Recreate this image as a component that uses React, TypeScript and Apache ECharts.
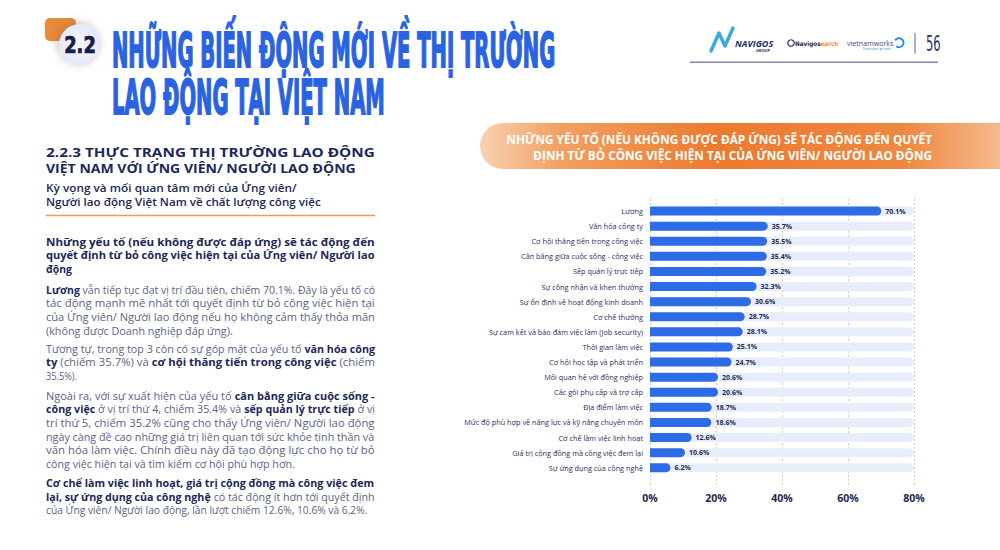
import React, { useEffect, useRef } from "react";
import * as echarts from "echarts";

const categories = [
  "Lương",
  "Văn hóa công ty",
  "Cơ hội thăng tiến trong công việc",
  "Cân bằng giữa cuộc sống - công việc",
  "Sếp quản lý trực tiếp",
  "Sự công nhận và khen thưởng",
  "Sự ổn định về hoạt động kinh doanh",
  "Cơ chế thưởng",
  "Sự cam kết và bảo đảm việc làm (Job security)",
  "Thời gian làm việc",
  "Cơ hội học tập và phát triển",
  "Mối quan hệ với đồng nghiệp",
  "Các gói phụ cấp và trợ cấp",
  "Địa điểm làm việc",
  "Mức độ phù hợp về năng lực và kỹ năng chuyên môn",
  "Cơ chế làm việc linh hoạt",
  "Giá trị cộng đồng mà công việc đem lại",
  "Sự ứng dụng của công nghệ",
];
const values = [70.1, 35.7, 35.5, 35.4, 35.2, 32.3, 30.6, 28.7, 28.1, 25.1, 24.7, 20.6, 20.6, 18.7, 18.6, 12.6, 10.6, 6.2];
const axisMin = 0;
const axisMax = 80;
const axisStep = 20;

const titleLines = ["NHỮNG BIẾN ĐỘNG MỚI VỀ THỊ TRƯỜNG", "LAO ĐỘNG TẠI VIỆT NAM"];
const sectionNumber = "2.2";
const pageNumber = "56";
const headingLines = ["2.2.3 THỰC TRẠNG THỊ TRƯỜNG LAO ĐỘNG", "VIỆT NAM VỚI ỨNG VIÊN/ NGƯỜI LAO ĐỘNG"];
const subLines = ["Kỳ vọng và mối quan tâm mới của Ứng viên/", "Người lao động Việt Nam về chất lượng công việc"];
const boldParaLines = [
  "Những yếu tố (nếu không được đáp ứng) sẽ tác động đến",
  "quyết định từ bỏ công việc hiện tại của Ứng viên/ Người lao",
  "động",
];
const bodyParas = [
  [
    "{b|Lương} vẫn tiếp tục đạt vị trí đầu tiên, chiếm 70.1%. Đây là yếu tố có",
    "tác động mạnh mẽ nhất tới quyết định từ bỏ công việc hiện tại",
    "của Ứng viên/ Người lao động nếu họ không cảm thấy thỏa mãn",
    "(không được Doanh nghiệp đáp ứng).",
  ],
  [
    "Tương tự, trong top 3 còn có sự góp mặt của yếu tố {b|văn hóa công}",
    "{b|ty} (chiếm 35.7%) và {b|cơ hội thăng tiến trong công việc} (chiếm",
    "35.5%).",
  ],
  [
    "Ngoài ra, với sự xuất hiện của yếu tố {b|cân bằng giữa cuộc sống -}",
    "{b|công việc} ở vị trí thứ 4, chiếm 35.4% và {b|sếp quản lý trực tiếp} ở vị",
    "trí thứ 5, chiếm 35.2% cũng cho thấy Ứng viên/ Người lao động",
    "ngày càng đề cao những giá trị liên quan tới sức khỏe tinh thần và",
    "văn hóa làm việc. Chính điều này đã tạo động lực cho họ từ bỏ",
    "công việc hiện tại và tìm kiếm cơ hội phù hợp hơn.",
  ],
  [
    "{b|Cơ chế làm việc linh hoạt, giá trị cộng đồng mà công việc đem}",
    "{b|lại, sự ứng dụng của công nghệ} có tác động ít hơn tới quyết định",
    "của Ứng viên/ Người lao động, lần lượt chiếm 12.6%, 10.6% và 6.2%.",
  ],
];
const bannerLines = [
  "NHỮNG YẾU TỐ (NẾU KHÔNG ĐƯỢC ĐÁP ỨNG) SẼ TÁC ĐỘNG ĐẾN QUYẾT",
  "ĐỊNH TỪ BỎ CÔNG VIỆC HIỆN TẠI CỦA ỨNG VIÊN/ NGƯỜI LAO ĐỘNG",
];

const NAVY = "#1d2757";
const BODY = "#5a6187";
const FONT = "'Open Sans', 'Noto Sans', sans-serif";
const NARROW = "'Liberation Sans Narrow', 'DejaVu Sans Condensed', sans-serif";

// layout: full column width for justified lines, and widths for closing lines
const COL_X = 46;
const COL_W = 329;
const bodyLastWidths = [187, 31, 249, 322];

const canvas = typeof document !== "undefined" ? document.createElement("canvas") : null;
const ctx = canvas ? canvas.getContext("2d") : null;

function measureRich(text: string, size: number, baseWeight: string | number) {
  if (!ctx) return 1;
  const parts = text.split(/(\{b\|[^}]*\})/).filter((s) => s.length);
  let w = 0;
  parts.forEach((p) => {
    const m = p.match(/^\{b\|([^}]*)\}$/);
    const weight = m ? "bold" : String(baseWeight);
    ctx.font = `${weight} ${size}px ${FONT}`;
    w += ctx.measureText(m ? m[1] : p).width;
  });
  return w;
}

export default function App() {
  const ref = useRef<HTMLDivElement>(null);

  useEffect(() => {
    if (!ref.current) return;
    const chart = echarts.init(ref.current, undefined, { renderer: "svg" });

    const g: any[] = [];
    const addLine = (
      x: number,
      y: number,
      text: string,
      size: number,
      weight: string | number,
      fill: string,
      targetW: number,
      align: string = "left"
    ) => {
      const w = measureRich(text, size, weight);
      const sx = Math.max(0.8, Math.min(1.3, targetW / w));
      g.push({
        type: "text",
        x,
        y,
        scaleX: sx,
        style: {
          text,
          x: 0,
          y: 0,
          align,
          verticalAlign: "middle",
          fill,
          fontFamily: FONT,
          fontWeight: weight,
          fontSize: size,
          rich: { b: { fill: NAVY, fontWeight: "bold", fontFamily: FONT, fontSize: size } },
        },
      });
    };

    // section badge
    g.push({ type: "rect", shape: { x: 45, y: 18, width: 31, height: 23, r: 5 }, style: { fill: "#e8893b" } });
    g.push({
      type: "circle",
      shape: { cx: 80, cy: 45, r: 21 },
      style: {
        fill: new echarts.graphic.RadialGradient(0.5, 0.5, 0.6, [
          { offset: 0, color: "#f5f6fd" },
          { offset: 1, color: "#e2e5f6" },
        ]),
        shadowBlur: 8,
        shadowColor: "rgba(140,90,50,0.35)",
        shadowOffsetX: -2,
        shadowOffsetY: -2,
      },
    });
    g.push({
      type: "text",
      x: 80,
      y: 45.5,
      scaleX: 1.1,
      scaleY: 1.25,
      style: { text: sectionNumber, x: 0, y: 0, align: "center", verticalAlign: "middle", fill: "#14204a", stroke: "#14204a", lineWidth: 0.6, fontFamily: NARROW, fontWeight: "bold", fontSize: 18 },
    });
    // title
    const titleY = [50.5, 97.5];
    titleLines.forEach((t, i) => {
      g.push({
        type: "text",
        x: 112,
        y: titleY[i],
        scaleX: 0.725,
        scaleY: 1.6,
        style: { text: t, x: 0, y: 0, verticalAlign: "middle", fill: "#2a63e2", stroke: "#2a63e2", lineWidth: 1.1, fontFamily: NARROW, fontWeight: "bold", fontSize: 30 },
      });
    });
    // logos
    g.push({ type: "polyline", shape: { points: [[711, 51], [719, 33], [725, 46], [733, 28]] }, style: { stroke: "#3ea8de", lineWidth: 3.5, fill: "none", lineJoin: "round", lineCap: "round" } });
    g.push({ type: "text", x: 735, y: 43, style: { text: "NAVIGOS", fill: "#1d2c6a", fontFamily: FONT, fontStyle: "italic", fontWeight: "bold", fontSize: 9, verticalAlign: "middle" } });
    g.push({ type: "text", x: 763, y: 50, style: { text: "GROUP", fill: "#1d2c6a", fontFamily: FONT, fontWeight: "bold", fontSize: 4, align: "center", verticalAlign: "middle" } });
    g.push({ type: "circle", shape: { cx: 791, cy: 43, r: 3.2 }, style: { fill: "none", stroke: "#2b3562", lineWidth: 1.2 } });
    g.push({
      type: "text",
      x: 795,
      y: 43.5,
      style: {
        text: "{a|Navigos}{b|earch}",
        verticalAlign: "middle",
        fontFamily: NARROW,
        fontSize: 6.3,
        rich: {
          a: { fill: "#1d2757", fontWeight: "bold", fontSize: 6.3, fontFamily: NARROW },
          b: { fill: "#ef8a3c", fontWeight: "bold", fontSize: 6.3, fontFamily: NARROW },
        },
      },
    });
    g.push({ type: "text", x: 847, y: 42.5, style: { text: "vietnamworks", fill: "#3d4a78", fontFamily: FONT, fontSize: 7.1, verticalAlign: "middle" } });
    g.push({ type: "text", x: 877, y: 48.5, style: { text: "Empower growth", fill: "#2f8fe0", fontFamily: FONT, fontSize: 3.5, align: "center", verticalAlign: "middle" } });
    g.push({ type: "arc", shape: { cx: 899, cy: 42.7, r: 4.5, startAngle: -2.6, endAngle: 2.2 }, style: { stroke: "#2f8fe0", lineWidth: 2, fill: "none" } });
    g.push({ type: "line", shape: { x1: 915, y1: 33, x2: 915, y2: 53.5 }, style: { stroke: "#8c95b3", lineWidth: 1.5 } });
    g.push({
      type: "text",
      x: 926,
      y: 44,
      scaleX: 0.92,
      scaleY: 1.5,
      style: { text: pageNumber, x: 0, y: 0, verticalAlign: "middle", fill: "#2b3562", fontFamily: NARROW, fontSize: 14 },
    });
    g.push({ type: "line", shape: { x1: 690, y1: 62.3, x2: 938, y2: 62.3 }, style: { stroke: "#8089a8", lineWidth: 1.5 } });

    // banner
    g.push({
      type: "rect",
      shape: { x: 480, y: 123, width: 530, height: 46, r: [23, 0, 0, 23] },
      style: {
        fill: new echarts.graphic.LinearGradient(0, 0, 1, 0, [
          { offset: 0, color: "#f8d2b2" },
          { offset: 0.15, color: "#f2a061" },
          { offset: 0.45, color: "#ec7a2e" },
          { offset: 0.8, color: "#ee8840" },
          { offset: 1, color: "#f6bf95" },
        ]),
      },
    });
    const bannerY = [139.3, 155.5];
    const bannerW = [426, 399];
    bannerLines.forEach((t, i) => addLine(932, bannerY[i], t, 11.5, "bold", "#ffffff", bannerW[i], "right"));

    // left column
    const headY = [152, 168];
    const headW = [COL_W, 310];
    headingLines.forEach((t, i) => addLine(COL_X, headY[i], t, 13, "bold", NAVY, headW[i]));
    const subY = [188, 201.5];
    const subW = [251, 275];
    subLines.forEach((t, i) => addLine(COL_X, subY[i], t, 11, 600, NAVY, subW[i]));
    g.push({ type: "line", shape: { x1: COL_X, y1: 215.5, x2: COL_X + COL_W, y2: 215.5 }, style: { stroke: "#f29a4a", lineWidth: 1.5 } });
    const boldY = [241.5, 255, 268.5];
    const boldW = [COL_W, COL_W, 26];
    boldParaLines.forEach((t, i) => addLine(COL_X, boldY[i], t, 10.5, "bold", NAVY, boldW[i]));
    const paraStart = [290, 349, 396, 483.3];
    const lh = 13.6;
    bodyParas.forEach((lines, p) => {
      lines.forEach((t, i) => {
        const isLast = i === lines.length - 1;
        addLine(COL_X, paraStart[p] + i * lh, t, 10, "normal", BODY, isLast ? bodyLastWidths[p] : COL_W);
      });
    });

    const option: any = {
      animation: false,
      backgroundColor: "#ffffff",
      grid: [
        { left: 650, right: 86, top: 203.5, height: 271.8 },
        { left: 650, right: 86, top: 199, bottom: 63 },
      ],
      xAxis: [
        { type: "value", gridIndex: 0, min: axisMin, max: axisMax, show: false },
        {
          type: "value",
          gridIndex: 1,
          min: axisMin,
          max: axisMax,
          interval: axisStep,
          axisLine: { show: false },
          axisTick: { show: false },
          splitLine: { show: true, lineStyle: { type: [2, 2], color: "#f6c39a", width: 1 } },
          axisLabel: { formatter: "{value}%", color: NAVY, fontFamily: FONT, fontWeight: "bold", fontSize: 10.5, margin: 5 },
        },
      ],
      yAxis: [
        {
          type: "category",
          gridIndex: 0,
          data: categories,
          inverse: true,
          axisLine: { show: false },
          axisTick: { show: false },
          axisLabel: { color: "#262f5a", fontFamily: FONT, fontSize: 7.3, margin: 7 },
        },
        { type: "value", gridIndex: 1, min: 0, max: 1, show: false },
      ],
      series: [
        {
          type: "bar",
          xAxisIndex: 0,
          yAxisIndex: 0,
          data: values,
          barWidth: 9,
          showBackground: true,
          backgroundStyle: { color: "#e7eefa", borderRadius: [0, 5, 5, 0] },
          itemStyle: { color: "#2e6be6", borderRadius: [0, 5, 5, 0] },
          label: {
            show: true,
            position: "right",
            distance: 4,
            formatter: (p: any) => p.value + "%",
            color: NAVY,
            fontFamily: FONT,
            fontWeight: "bold",
            fontSize: 7,
          },
        },
      ],
      graphic: { elements: g },
    };
    chart.setOption(option);
    return () => chart.dispose();
  }, []);

  return (
    <div
      ref={ref}
      style={{ position: "fixed", left: 0, top: 0, width: 1000, height: 550, background: "#fff" }}
    />
  );
}
